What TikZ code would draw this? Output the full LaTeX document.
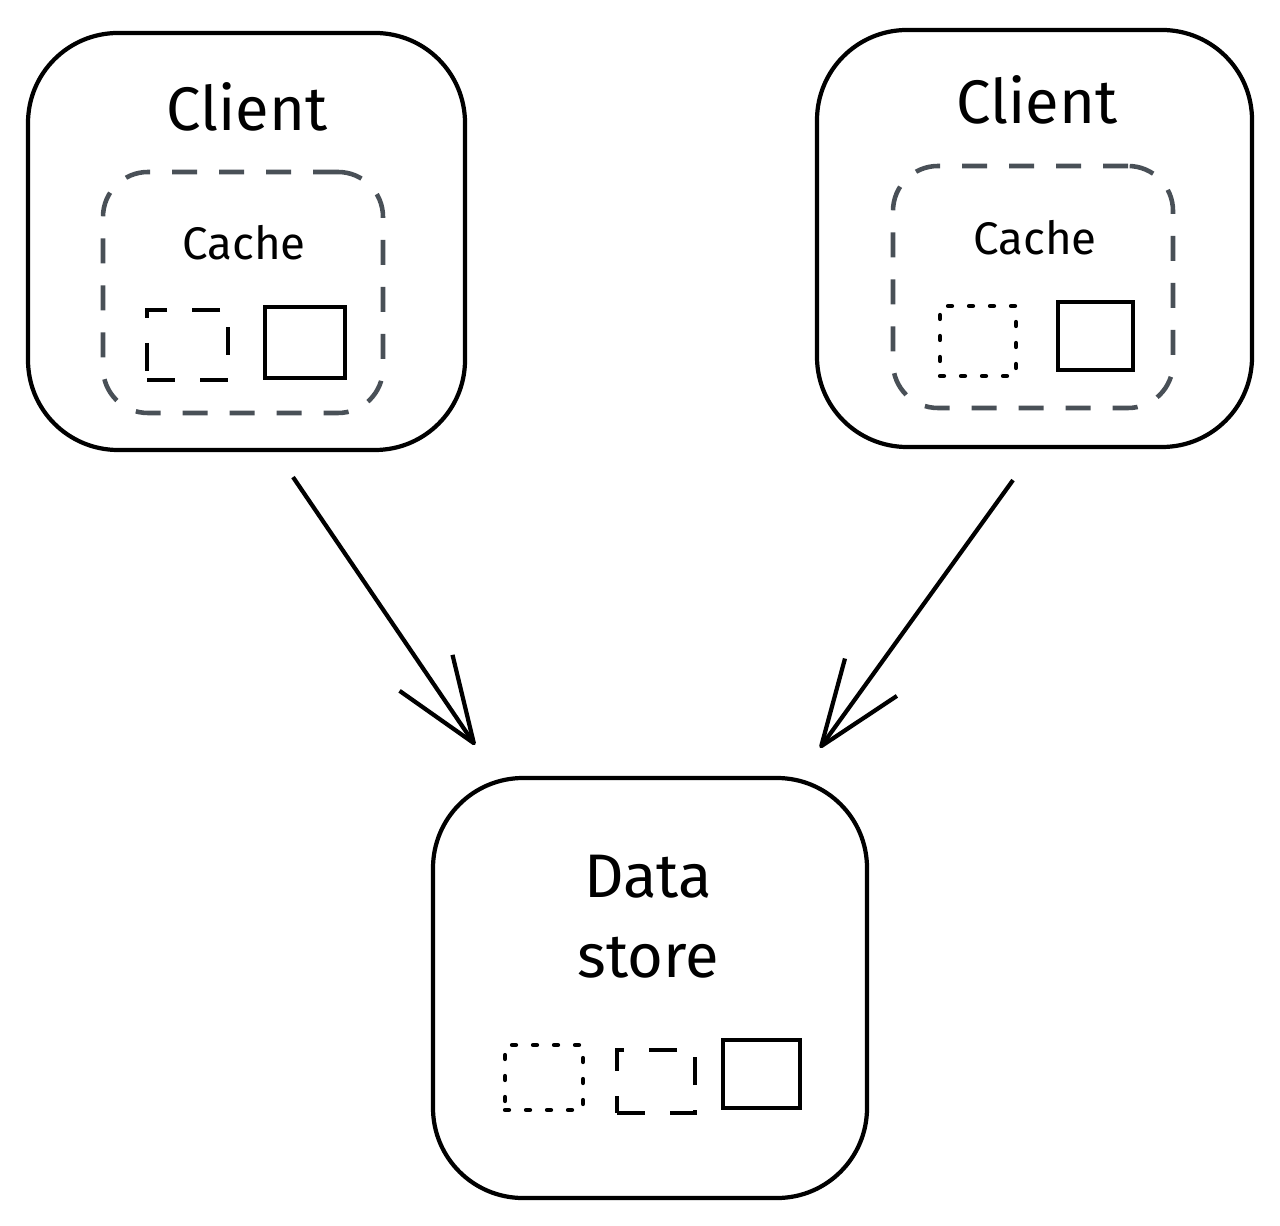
\documentclass[tikz,border=0pt]{standalone}
\usepackage{fontspec}
\setmainfont{Fira Sans}
\usepackage{xcolor}
\usepackage{tikz}
\usetikzlibrary{arrows.meta}
\usetikzlibrary{positioning,calc}

\definecolor{cachegray}{HTML}{495057}

\begin{document}
\begin{tikzpicture}[
		bigbox/.style={draw, line width=1.2pt, rounded corners=0.9cm, inner sep=0pt},
		cachebox/.style={draw=cachegray, line width=1.3pt, rounded corners=0.45cm, inner sep=0pt, dash pattern=on 0.25cm off 0.22cm},
		slot/.style={draw, line width=1.2pt, inner sep=0pt, minimum width=0.79cm, minimum height=0.69cm},
		slotdash/.style={slot, dash pattern=on 0.28cm off 0.25cm},
		slotdot/.style={slot, line cap=round, dash pattern=on 0.04cm off 0.17cm},
		bigtext/.style={font=\fontsize{17.5pt}{22.8pt}\selectfont, align=center},
		smalltext/.style={font=\fontsize{13pt}{16pt}\selectfont},
		flow/.style={line width=1.2pt, line join=round, -{Straight Barb[length=0.85cm, width=0.64cm, line join=round]}}
	]
	\useasboundingbox (0,0) rectangle (12.8,-12.25);
	
	% left client
	\node [bigbox, minimum width=4.37cm, minimum height=4.17cm] (clientL) at (2.465,-2.415) {};
	\node [bigtext] (clientLtxt) at (2.47,-1.07) {Client};
	\node [cachebox, minimum width=2.8cm, minimum height=2.41cm] (cacheL) at (2.43,-2.925) {};
	\node [smalltext] (cacheLtxt) at (2.44,-2.43) {Cache};
	\node [slotdash, minimum width=0.81cm, minimum height=0.7cm] (slotLa) at (1.875,-3.45) {};
	\node [slot, minimum width=0.8cm, minimum height=0.71cm] (slotLb) at (3.05,-3.425) {};
	
	% right client
	\node [bigbox, minimum width=4.35cm, minimum height=4.17cm] (clientR) at (10.345,-2.385) {};
	\node [bigtext] (clientRtxt) at (10.37,-1.0) {Client};
	\node [cachebox, minimum width=2.8cm, minimum height=2.42cm] (cacheR) at (10.33,-2.87) {};
	\node [smalltext] (cacheRtxt) at (10.35,-2.38) {Cache};
	\node [slotdot, minimum width=0.76cm, minimum height=0.7cm] (slotRa) at (9.78,-3.41) {};
	\node [slot, minimum width=0.75cm, minimum height=0.68cm] (slotRb) at (10.955,-3.36) {};
	
	% % % % % % % % % % % % % % % % % % % % % % % % % %
	
	% data store
	\node [bigbox, minimum width=4.34cm, minimum height=4.2cm] (store) at (6.5,-9.88) {};
	\node [bigtext] (storetxt) at (6.48,-9.17) {Data\\store};
	\node [slotdot, minimum width=0.78cm, minimum height=0.65cm] (slotDa) at (5.44,-10.775) {};
	\node [slotdash, minimum width=0.78cm, minimum height=0.63cm] (slotDb) at (6.56,-10.815) {};
	\node [slot, minimum width=0.77cm, minimum height=0.68cm] (slotDc) at (7.615,-10.74) {};
	
	% arrows
	\coordinate (outL) at ([shift={(0.465,-0.25)}]clientL.south);
	\coordinate (outR) at ([shift={(-0.215,-0.31)}]clientR.south);
	\coordinate (inL) at ([shift={(-1.75,0.31)}]store.north);
	\coordinate (inR) at ([shift={(1.70,0.28)}]store.north);
	\draw [flow] (outL) -- (inL);
	\draw [flow] (outR) -- (inR);
\end{tikzpicture}
\end{document}
